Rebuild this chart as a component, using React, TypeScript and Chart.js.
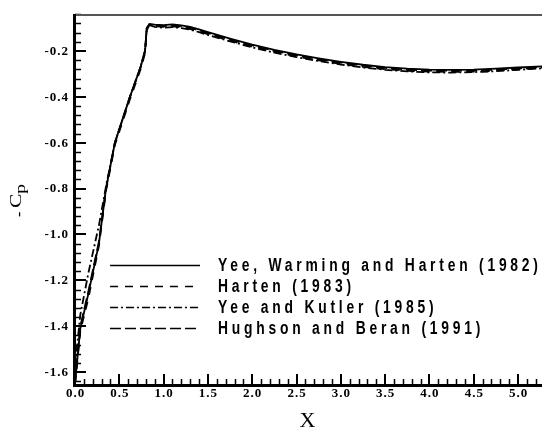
import React, { useEffect, useRef } from "react";
import { Chart, registerables } from "chart.js";

Chart.register(...registerables);

// Shared abscissa (X) for every distribution
const X_VALUES = [
  0, 0.02, 0.06, 0.15, 0.27, 0.35, 0.45, 0.62, 0.74, 0.79, 0.81, 0.84, 0.9, 1.0,
  1.1, 1.2, 1.3, 1.4, 1.5, 1.75, 2.0, 2.25, 2.5, 2.75, 3.0, 3.25, 3.5, 3.75, 4.0,
  4.25, 4.5, 4.75, 5.0, 5.3,
];

// -Cp distributions for each scheme
const YWH_1982 = [
  -1.65, -1.57, -1.41, -1.26, -1.04, -0.8, -0.6, -0.4, -0.27, -0.2, -0.1, -0.082,
  -0.085, -0.087, -0.084, -0.088, -0.095, -0.106, -0.118, -0.146, -0.172, -0.195,
  -0.215, -0.232, -0.247, -0.26, -0.27, -0.277, -0.281, -0.282, -0.281, -0.277,
  -0.272, -0.266,
];
const HARTEN_1983 = [
  -1.65, -1.58, -1.42, -1.28, -1.05, -0.81, -0.61, -0.41, -0.28, -0.21, -0.11,
  -0.086, -0.092, -0.095, -0.093, -0.097, -0.104, -0.115, -0.127, -0.155, -0.181,
  -0.204, -0.224, -0.241, -0.256, -0.269, -0.279, -0.286, -0.29, -0.291, -0.29,
  -0.286, -0.28, -0.273,
];
const YEE_KUTLER_1985 = [
  -1.65, -1.5, -1.35, -1.17, -0.96, -0.79, -0.6, -0.4, -0.27, -0.2, -0.1, -0.087,
  -0.095, -0.098, -0.096, -0.1, -0.107, -0.118, -0.13, -0.158, -0.184, -0.207,
  -0.227, -0.244, -0.259, -0.272, -0.282, -0.289, -0.293, -0.294, -0.292, -0.288,
  -0.282, -0.275,
];
const HUGHSON_BERAN_1991 = [
  -1.65, -1.56, -1.4, -1.25, -1.03, -0.8, -0.6, -0.4, -0.27, -0.2, -0.1, -0.084,
  -0.089, -0.091, -0.088, -0.092, -0.099, -0.11, -0.122, -0.15, -0.176, -0.199,
  -0.219, -0.236, -0.251, -0.264, -0.274, -0.281, -0.285, -0.286, -0.285, -0.281,
  -0.276, -0.27,
];

const SERIES_LABELS = [
  "Yee, Warming and Harten (1982)",
  "Harten (1983)",
  "Yee and Kutler (1985)",
  "Hughson and Beran (1991)",
];
const SERIES_DASHES: number[][] = [[], [8, 7], [8, 3, 2, 3], [11, 4]];

// Axis ranges and ticks
const X_MIN = 0;
const X_MAX = 5.27;
const Y_MIN = -1.652;
const Y_MAX = -0.043;
const X_MAJOR_TICKS = [0, 0.5, 1.0, 1.5, 2.0, 2.5, 3.0, 3.5, 4.0, 4.5, 5.0];
const Y_MAJOR_TICKS = [-1.6, -1.4, -1.2, -1.0, -0.8, -0.6, -0.4, -0.2];
const X_MINOR_STEP = 0.1;
const Y_MINOR_STEP = 0.04;

const X_TITLE = "X";

function setSpacing(ctx: CanvasRenderingContext2D, px: number) {
  (ctx as any).letterSpacing = px + "px";
}

const framePlugin = {
  id: "frame",
  afterDraw(chart: any) {
    const { ctx, chartArea: a, scales } = chart;
    const xs = scales.x;
    const ys = scales.y;
    ctx.save();
    ctx.strokeStyle = "#000";
    ctx.fillStyle = "#000";

    // minor ticks (inward)
    ctx.lineWidth = 1.5;
    ctx.beginPath();
    for (let i = 1; i * X_MINOR_STEP < X_MAX; i++) {
      const v = i * X_MINOR_STEP;
      if (Math.abs(v / 0.5 - Math.round(v / 0.5)) < 1e-6) continue;
      const px = Math.round(xs.getPixelForValue(v)) + 0.5;
      ctx.moveTo(px, a.bottom);
      ctx.lineTo(px, a.bottom - 5);
    }
    for (let i = 1; -i * Y_MINOR_STEP > Y_MIN; i++) {
      const v = -i * Y_MINOR_STEP;
      if (Math.abs(v / 0.2 - Math.round(v / 0.2)) < 1e-6) continue;
      const py = Math.round(ys.getPixelForValue(v)) + 0.5;
      ctx.moveTo(a.left, py);
      ctx.lineTo(a.left + 6, py);
    }
    ctx.stroke();

    // major ticks (inward)
    ctx.lineWidth = 2;
    ctx.beginPath();
    X_MAJOR_TICKS.forEach((v) => {
      const px = Math.round(xs.getPixelForValue(v));
      ctx.moveTo(px, a.bottom);
      ctx.lineTo(px, a.bottom - 10);
    });
    Y_MAJOR_TICKS.forEach((v) => {
      const py = Math.round(ys.getPixelForValue(v));
      ctx.moveTo(a.left, py);
      ctx.lineTo(a.left + 11, py);
    });
    ctx.stroke();

    // top border
    ctx.strokeStyle = "#555";
    ctx.lineWidth = 2;
    ctx.beginPath();
    ctx.moveTo(a.left - 2, a.top);
    ctx.lineTo(a.right, a.top);
    ctx.stroke();

    // left and bottom axis lines
    ctx.strokeStyle = "#000";
    ctx.lineWidth = 3;
    ctx.beginPath();
    ctx.moveTo(a.left - 0.5, a.top - 1);
    ctx.lineTo(a.left - 0.5, a.bottom + 1.5);
    ctx.lineTo(a.right, a.bottom + 1.5);
    ctx.stroke();

    // tick labels
    ctx.font = 'bold 13px "Liberation Serif"';
    setSpacing(ctx, 1);
    ctx.textBaseline = "middle";
    ctx.textAlign = "center";
    X_MAJOR_TICKS.forEach((v) => {
      ctx.fillText(v.toFixed(1), xs.getPixelForValue(v) + 0.5, a.bottom + 10);
    });
    ctx.textAlign = "right";
    Y_MAJOR_TICKS.forEach((v) => {
      ctx.fillText(v.toFixed(1), a.left - 6, ys.getPixelForValue(v) + 0.5);
    });
    setSpacing(ctx, 0);

    // axis titles
    ctx.font = '22px "Liberation Serif"';
    ctx.textAlign = "center";
    ctx.textBaseline = "middle";
    ctx.fillText(X_TITLE, (a.left + a.right) / 2 - 1, a.bottom + 37);

    ctx.save();
    ctx.translate(21, 217);
    ctx.rotate(-Math.PI / 2);
    ctx.textAlign = "left";
    ctx.textBaseline = "alphabetic";
    ctx.font = '16px "Liberation Serif"';
    ctx.fillText("-", 0, 3);
    ctx.save();
    ctx.translate(9, 0);
    ctx.scale(1.35, 1);
    ctx.fillText("C", 0, 0);
    ctx.restore();
    ctx.save();
    ctx.translate(23, 3.5);
    ctx.scale(1.35, 1);
    ctx.font = '15px "Liberation Serif"';
    ctx.fillText("p", 0, 0);
    ctx.restore();
    ctx.restore();

    // legend
    const rows = [265, 286, 307, 328];
    SERIES_LABELS.forEach((label, i) => {
      const y = rows[i];
      ctx.strokeStyle = "#000";
      ctx.lineWidth = 1.5;
      ctx.setLineDash(SERIES_DASHES[i]);
      ctx.beginPath();
      ctx.moveTo(110, y + 0.5);
      ctx.lineTo(200, y + 0.5);
      ctx.stroke();
      ctx.setLineDash([]);

      ctx.save();
      ctx.translate(218, y + 1);
      ctx.scale(0.77, 1);
      ctx.font = 'bold 18px "Liberation Sans"';
      setSpacing(ctx, 4.9);
      ctx.textAlign = "left";
      ctx.textBaseline = "middle";
      ctx.fillText(label, 0, 0);
      setSpacing(ctx, 0);
      ctx.restore();
    });

    ctx.restore();
  },
};

export default function App() {
  const canvasRef = useRef<HTMLCanvasElement | null>(null);

  useEffect(() => {
    const canvas = canvasRef.current;
    if (!canvas) return;
    const seriesValues = [YWH_1982, HARTEN_1983, YEE_KUTLER_1985, HUGHSON_BERAN_1991];
    const chart = new Chart(canvas, {
      type: "line",
      data: {
        datasets: seriesValues.map((vals, i) => ({
          label: SERIES_LABELS[i],
          data: X_VALUES.map((x, j) => ({ x, y: vals[j] })),
          borderColor: "#000",
          borderWidth: 1.8,
          borderDash: SERIES_DASHES[i],
          pointRadius: 0,
          tension: 0,
          fill: false,
        })),
      },
      options: {
        responsive: false,
        animation: false,
        devicePixelRatio: 1,
        layout: { padding: { left: 75, top: 15, right: 0, bottom: 44 } },
        plugins: {
          legend: { display: false },
          tooltip: { enabled: false },
        },
        scales: {
          x: { type: "linear", min: X_MIN, max: X_MAX, display: false },
          y: { type: "linear", min: Y_MIN, max: Y_MAX, display: false },
        },
      },
      plugins: [framePlugin],
    });
    return () => chart.destroy();
  }, []);

  return (
    <div style={{ position: "fixed", left: 0, top: 0, width: 542, height: 428, background: "#fff" }}>
      <canvas ref={canvasRef} width={542} height={428} style={{ display: "block" }} />
    </div>
  );
}
